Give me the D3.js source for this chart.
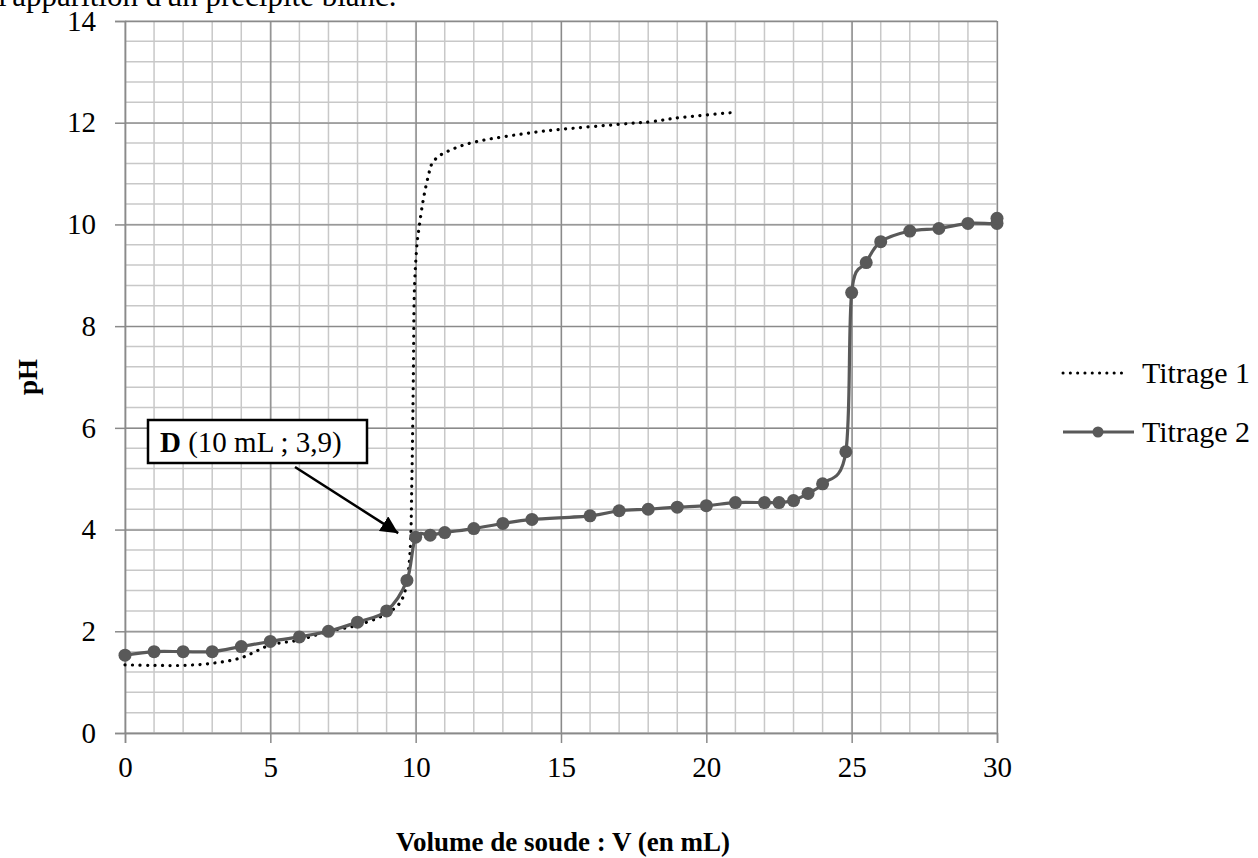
<!DOCTYPE html>
<html>
<head>
<meta charset="utf-8">
<script src="https://cdn.jsdelivr.net/npm/d3@7"></script>
<style>
  body { margin: 0; background: #fff; }
  svg text { font-family: "Liberation Serif", "Times New Roman", serif; fill: #000; }
  .tick-label { font-size: 29px; }
  .title { font-size: 27px; font-weight: bold; }
  .legend { font-size: 30px; }
</style>
</head>
<body>
<svg width="1258" height="858"></svg>
<script>
// Titrage 2 : points mesurés (V en mL, pH)
var vol2 = [0, 1, 2, 3, 4, 5, 6, 7, 8, 9, 9.7, 10, 10.5, 11, 12, 13, 14, 16, 17, 18, 19, 20, 21, 22, 22.5, 23, 23.5, 24, 24.8, 25, 25.5, 26, 27, 28, 29, 30, 30];
var ph2  = [1.53, 1.60, 1.60, 1.60, 1.70, 1.80, 1.89, 2.00, 2.18, 2.40, 3.00, 3.85, 3.89, 3.94, 4.02, 4.12, 4.20, 4.27, 4.37, 4.40, 4.44, 4.47, 4.53, 4.53, 4.53, 4.57, 4.71, 4.90, 5.53, 8.66, 9.25, 9.66, 9.87, 9.92, 10.02, 10.02, 10.12];

// Titrage 1 : courbe pointillée (sans marqueurs)
var vol1 = [0, 1, 2, 3, 4, 5, 6, 7, 8, 9, 9.57, 9.8, 9.87, 9.92, 9.95, 10.03, 10.12, 10.26, 10.43, 10.6, 11.07, 12.1, 13.93, 15.02, 17.03, 18.1, 19.09, 20.9];
var ph1  = [1.34, 1.33, 1.33, 1.37, 1.48, 1.73, 1.83, 2.00, 2.12, 2.35, 2.68, 3.5, 5.0, 7.0, 8.58, 9.5, 9.95, 10.48, 10.94, 11.23, 11.43, 11.63, 11.8, 11.87, 11.97, 12.02, 12.1, 12.2];

var xTicks = [0, 5, 10, 15, 20, 25, 30];
var yTicks = [0, 2, 4, 6, 8, 10, 12, 14];
var seriesNames = ['Titrage 1', 'Titrage 2'];

var svg = d3.select('svg');

var xScale = d3.scaleLinear().domain([0, 30]).range([125, 997]);
var yScale = d3.scaleLinear().domain([0, 14]).range([733, 21]);

// texte coupé du document, en haut
svg.append('text')
    .attr('x', -2)
    .attr('y', 6)
    .style('font-size', '31px')
    .text("l'apparition d'un précipité blanc.");

// **** grille ****
var minorX = d3.range(0, 31, 1);
var minorY = d3.range(0, 14.01, 0.4);

svg.append('g').selectAll('line')
    .data(minorX)
    .enter().append('line')
    .attr('x1', function(d){ return xScale(d); })
    .attr('x2', function(d){ return xScale(d); })
    .attr('y1', yScale(0)).attr('y2', yScale(14))
    .attr('stroke', '#c8c8c8').attr('stroke-width', 1.5);

svg.append('g').selectAll('line')
    .data(minorY)
    .enter().append('line')
    .attr('y1', function(d){ return yScale(d); })
    .attr('y2', function(d){ return yScale(d); })
    .attr('x1', xScale(0)).attr('x2', xScale(30))
    .attr('stroke', '#c8c8c8').attr('stroke-width', 1.5);

svg.append('g').attr('class', 'x axis')
    .attr('transform', 'translate(0,' + yScale(0) + ')')
    .call(d3.axisBottom(xScale).tickValues(xTicks).tickSize(-(yScale(0) - yScale(14))).tickFormat(''))
    .call(function(g){ g.select('.domain').remove(); })
    .selectAll('line').attr('stroke', '#8a8a8a').attr('stroke-width', 1.3);

svg.append('g').attr('class', 'y axis')
    .attr('transform', 'translate(' + xScale(0) + ',0)')
    .call(d3.axisLeft(yScale).tickValues(yTicks).tickSize(-(xScale(30) - xScale(0))).tickFormat(''))
    .call(function(g){ g.select('.domain').remove(); })
    .selectAll('line').attr('stroke', '#8a8a8a').attr('stroke-width', 1.3);

// petites graduations extérieures + étiquettes
var xAx = svg.append('g')
    .attr('transform', 'translate(0,' + yScale(0) + ')')
    .call(d3.axisBottom(xScale).tickValues(xTicks).tickSize(10).tickPadding(13));
xAx.select('.domain').attr('stroke', '#8a8a8a').attr('stroke-width', 1.5);
xAx.selectAll('line').attr('stroke', '#8a8a8a').attr('stroke-width', 1.5);
xAx.selectAll('text').attr('class', 'tick-label').attr('font-family', null).attr('font-size', null);

var yAx = svg.append('g')
    .attr('transform', 'translate(' + xScale(0) + ',0)')
    .call(d3.axisLeft(yScale).tickValues(yTicks).tickSize(10).tickPadding(19));
yAx.select('.domain').attr('stroke', '#8a8a8a').attr('stroke-width', 1.5);
yAx.selectAll('line').attr('stroke', '#8a8a8a').attr('stroke-width', 1.5);
yAx.selectAll('text').attr('class', 'tick-label').attr('font-family', null).attr('font-size', null);

// titres des axes
svg.append('text')
    .attr('class', 'title')
    .attr('x', 563).attr('y', 851)
    .attr('text-anchor', 'middle')
    .text('Volume de soude : V (en mL)');

svg.append('text')
    .attr('class', 'title')
    .attr('transform', 'translate(37,' + yScale(7) + ') rotate(-90)')
    .attr('text-anchor', 'middle')
    .text('pH');

// **** courbes ****
var data1 = vol1.map(function(v, i){ return [v, ph1[i]]; });
var data2 = vol2.map(function(v, i){ return [v, ph2[i]]; });

var line = d3.line()
    .x(function(d){ return xScale(d[0]); })
    .y(function(d){ return yScale(d[1]); })
    .curve(d3.curveCatmullRom.alpha(0));

svg.append('path')
    .datum(data1)
    .attr('d', line)
    .attr('fill', 'none')
    .attr('stroke', '#000')
    .attr('stroke-width', 3.2)
    .attr('stroke-linecap', 'round')
    .attr('stroke-dasharray', '0.1,7.4');

svg.append('path')
    .datum(data2)
    .attr('d', line)
    .attr('fill', 'none')
    .attr('stroke', '#595959')
    .attr('stroke-width', 3.2);

svg.append('g').selectAll('circle')
    .data(data2)
    .enter().append('circle')
    .attr('cx', function(d){ return xScale(d[0]); })
    .attr('cy', function(d){ return yScale(d[1]); })
    .attr('r', 6.5)
    .attr('fill', '#595959');

// **** annotation D ****
var defs = svg.append('defs');
defs.append('marker')
    .attr('id', 'arrow')
    .attr('viewBox', '0 0 10 10')
    .attr('refX', 10).attr('refY', 5)
    .attr('markerWidth', 7).attr('markerHeight', 7)
    .attr('orient', 'auto')
    .append('path').attr('d', 'M0,0 L10,5 L0,10 z').attr('fill', '#000');

svg.append('line')
    .attr('x1', 295).attr('y1', 467)
    .attr('x2', xScale(9.4)).attr('y2', yScale(3.93))
    .attr('stroke', '#000').attr('stroke-width', 2.5)
    .attr('marker-end', 'url(#arrow)');

svg.append('rect')
    .attr('x', 148).attr('y', 420)
    .attr('width', 219).attr('height', 43)
    .attr('fill', '#fff')
    .attr('stroke', '#000').attr('stroke-width', 2.5);

var ann = svg.append('text')
    .attr('x', 160).attr('y', 452)
    .style('font-size', '29px');
ann.append('tspan').attr('font-weight', 'bold').text('D');
ann.append('tspan').text(' (10 mL ; 3,9)');

// **** légende ****
var leg = svg.append('g');
leg.append('line')
    .attr('x1', 1063).attr('x2', 1128).attr('y1', 373).attr('y2', 373)
    .attr('stroke', '#000').attr('stroke-width', 3)
    .attr('stroke-linecap', 'round').attr('stroke-dasharray', '0.1,7.2');
leg.append('text').attr('class', 'legend')
    .attr('x', 1142).attr('y', 383).text(seriesNames[0]);

leg.append('line')
    .attr('x1', 1063).attr('x2', 1134).attr('y1', 432).attr('y2', 432)
    .attr('stroke', '#595959').attr('stroke-width', 3.2);
leg.append('circle')
    .attr('cx', 1098).attr('cy', 432).attr('r', 5.5).attr('fill', '#595959');
leg.append('text').attr('class', 'legend')
    .attr('x', 1142).attr('y', 442).text(seriesNames[1]);
</script>
</body>
</html>
